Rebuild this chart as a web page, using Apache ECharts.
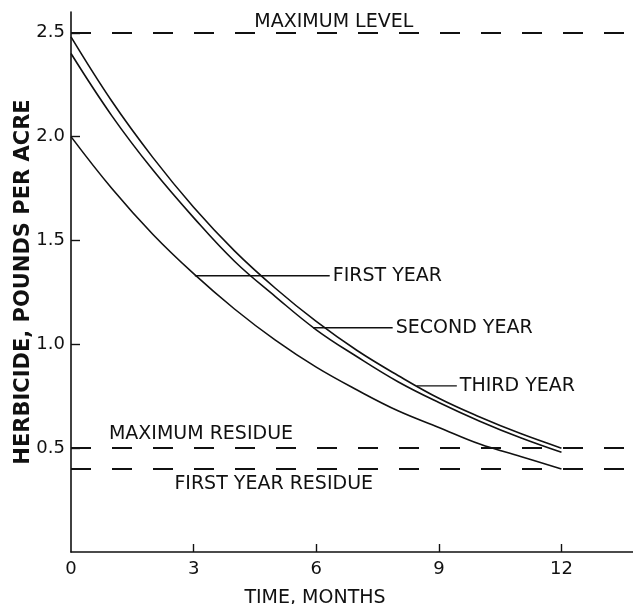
<!DOCTYPE html>
<html>
<head>
<meta charset="utf-8">
<script src="https://cdn.jsdelivr.net/npm/echarts@6/dist/echarts.min.js"></script>
<style>
html,body{margin:0;padding:0;background:#fff;}
#chart{width:633px;height:604px;}
</style>
</head>
<body>
<div id="chart"></div>
<script>
// ---- data ----
const months = [0, 1, 2, 3, 4, 5, 6, 7, 8, 9, 10, 11, 12];
const firstYear  = [2.00, 1.75, 1.53, 1.34, 1.17, 1.02, 0.89, 0.78, 0.68, 0.60, 0.52, 0.46, 0.40];
const secondYear = [2.40, 2.10, 1.84, 1.61, 1.40, 1.23, 1.07, 0.94, 0.82, 0.72, 0.63, 0.55, 0.48];
const thirdYear  = [2.48, 2.17, 1.90, 1.66, 1.45, 1.27, 1.11, 0.97, 0.85, 0.74, 0.65, 0.57, 0.50];

const refLevels = [2.5, 0.5, 0.4];

const leaderNames = ['FIRST YEAR', 'SECOND YEAR', 'THIRD YEAR'];
const leaderY     = [1.33, 1.08, 0.80];
const leaderFrom  = [3.03, 5.92, 8.46];
const leaderTo    = [6.33, 7.87, 9.44];

const noteTexts = ['MAXIMUM LEVEL', 'MAXIMUM RESIDUE', 'FIRST YEAR RESIDUE'];
const noteX     = [6.43, 3.18, 4.96];
const noteY     = [2.553, 0.567, 0.327];

const xTickLabels = [0, 3, 6, 9, 12];
const yTickLabels = [0.5, 1.0, 1.5, 2.0, 2.5];

// ---- chart ----
const FONT = "'DejaVu Sans', sans-serif";
const INK = '#111';
const chart = echarts.init(document.getElementById('chart'), null, {renderer: 'canvas'});

function curve(name, vals) {
  return {
    name: name, type: 'line', data: months.map((m, i) => [m, vals[i]]),
    showSymbol: false, smooth: 0.4, silent: true,
    lineStyle: {color: INK, width: 1.6}
  };
}

const series = [
  Object.assign(curve('First year', firstYear), {
    markLine: {
      silent: true, symbol: 'none', animation: false,
      label: {show: false},
      lineStyle: {color: INK, width: 1.8, type: [20, 21]},
      data: refLevels.map(v => ({yAxis: v}))
    }
  }),
  curve('Second year', secondYear),
  curve('Third year', thirdYear)
];

leaderNames.forEach((n, i) => {
  series.push({
    type: 'line', silent: true, showSymbol: false, symbol: 'none',
    lineStyle: {color: INK, width: 1.4},
    data: [[leaderFrom[i], leaderY[i]], [leaderTo[i], leaderY[i]]],
    endLabel: {show: true, distance: 3, formatter: n,
               color: INK, fontFamily: FONT, fontSize: 19}
  });
});

series.push({
  type: 'scatter', silent: true, symbolSize: 0,
  itemStyle: {opacity: 1},
  data: noteTexts.map((t, i) => ({value: [noteX[i], noteY[i]], name: t})),
  label: {show: true, position: 'inside', formatter: p => p.name, opacity: 1,
          color: INK, fontFamily: FONT, fontSize: 19, align: 'center', verticalAlign: 'middle'}
});

chart.setOption({
  animation: false,
  backgroundColor: '#fff',
  grid: {left: 71, right: 0, top: 12, bottom: 52, containLabel: false, outerBoundsMode: 'none'},
  xAxis: {
    type: 'value', min: 0, max: 13.75, interval: 3,
    splitLine: {show: false},
    axisLine: {show: true, lineStyle: {color: INK, width: 1.6}},
    axisTick: {show: true, inside: true, length: 8, customValues: [3, 6, 9, 12],
               lineStyle: {color: INK, width: 1.4}},
    axisLabel: {customValues: xTickLabels, color: INK, fontFamily: FONT, fontSize: 18, margin: 8},
    name: 'TIME, MONTHS', nameLocation: 'middle', nameGap: 37,
    nameTextStyle: {color: INK, fontFamily: FONT, fontSize: 19, padding: [0, 74, 0, 0]}
  },
  yAxis: {
    type: 'value', min: 0, max: 2.6, interval: 0.5,
    splitLine: {show: false},
    axisLine: {show: true, lineStyle: {color: INK, width: 1.6}},
    axisTick: {show: true, inside: true, length: 9, customValues: yTickLabels,
               lineStyle: {color: INK, width: 1.4}},
    axisLabel: {customValues: yTickLabels, color: INK, fontFamily: FONT, fontSize: 18, margin: 6,
                formatter: v => v.toFixed(1)},
    name: 'HERBICIDE, POUNDS PER ACRE', nameLocation: 'middle', nameGap: 37, nameMoveOverlap: false,
    nameTextStyle: {color: INK, fontFamily: FONT, fontSize: 21, fontWeight: 'bold'}
  },
  series: series
});
</script>
</body>
</html>
